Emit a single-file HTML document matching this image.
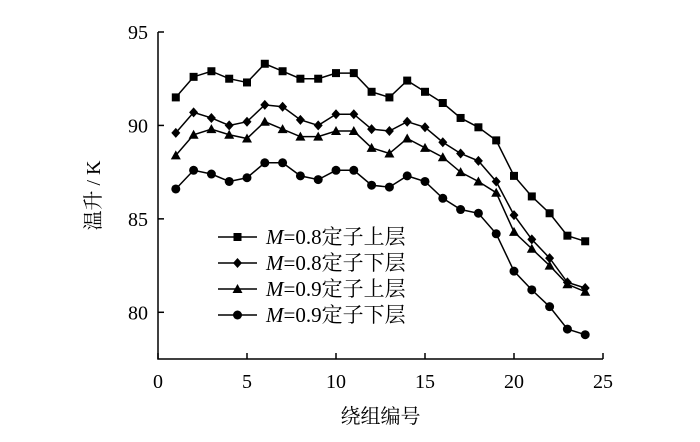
<!DOCTYPE html>
<html><head><meta charset="utf-8"><style>
body{margin:0;background:#fff;}
svg text{font-family:"Liberation Serif","Noto Serif CJK SC",serif;fill:#000;}
</style></head><body>
<svg id="chart" width="700" height="437" viewBox="0 0 700 437" xmlns="http://www.w3.org/2000/svg"></svg>
<script>
const windings=[1,2,3,4,5,6,7,8,9,10,11,12,13,14,15,16,17,18,19,20,21,22,23,24];
const s1=[91.5,92.6,92.9,92.5,92.3,93.3,92.9,92.5,92.5,92.8,92.8,91.8,91.5,92.4,91.8,91.2,90.4,89.9,89.2,87.3,86.2,85.3,84.1,83.8];
const s2=[89.6,90.7,90.4,90.0,90.2,91.1,91.0,90.3,90.0,90.6,90.6,89.8,89.7,90.2,89.9,89.1,88.5,88.1,87.0,85.2,83.9,82.9,81.6,81.3];
const s3=[88.4,89.5,89.8,89.5,89.3,90.2,89.8,89.4,89.4,89.7,89.7,88.8,88.5,89.3,88.8,88.3,87.5,87.0,86.4,84.3,83.4,82.5,81.5,81.1];
const s4=[86.6,87.6,87.4,87.0,87.2,88.0,88.0,87.3,87.1,87.6,87.6,86.8,86.7,87.3,87.0,86.1,85.5,85.3,84.2,82.2,81.2,80.3,79.1,78.8];
const xTicks=[0,5,10,15,20,25];
const yTicks=[80,85,90,95];
const seriesNames=["0.8定子上层","0.8定子下层","0.9定子上层","0.9定子下层"];
const markers=["square","diamond","triangle","circle"];

const svg=document.getElementById('chart');
const NS='http://www.w3.org/2000/svg';
const X0=158,X1=603,Y0=359,Y1=32,xMin=0,xMax=25,yMin=77.5,yMax=95;
function xs(v){return X0+(v-xMin)/(xMax-xMin)*(X1-X0);}
function ys(v){return Y0-(v-yMin)/(yMax-yMin)*(Y0-Y1);}
function el(t,a){const e=document.createElementNS(NS,t);for(const k in a)e.setAttribute(k,a[k]);svg.appendChild(e);return e;}

let ax=el('path',{d:`M${X0},${Y1}V${Y0}H${X1}`,stroke:'#000','stroke-width':1.5,fill:'none'});


xTicks.forEach(v=>{
  const t=el('line',{x1:xs(v),x2:xs(v),y1:Y0,y2:Y0-6,stroke:'#000','stroke-width':1.5});
  
  
  const l=el('text',{x:xs(v),y:Y0+29,'text-anchor':'middle','font-size':20});
  l.textContent=v;
  
  
});
yTicks.forEach(v=>{
  const t=el('line',{x1:X0,x2:X0+6,y1:ys(v),y2:ys(v),stroke:'#000','stroke-width':1.5});
  
  
  const l=el('text',{x:X0-10,y:ys(v)+7,'text-anchor':'end','font-size':20});
  l.textContent=v;
  
  
});
let yt=el('text',{x:0,y:0,'text-anchor':'middle','font-size':20,transform:`translate(100,${(Y0+Y1)/2}) rotate(-90)`});
yt.textContent='温升 / K';


let xt=el('text',{x:(X0+X1)/2,y:423,'text-anchor':'middle','font-size':20});
xt.textContent='绕组编号';



function marker(type,x,y){
  let m;
  if(type==='square')m=el('rect',{x:x-4,y:y-4,width:8,height:8,fill:'#000'});
  else if(type==='diamond')m=el('polygon',{points:`${x},${y-5} ${x+4.5},${y} ${x},${y+5} ${x-4.5},${y}`,fill:'#000'});
  else if(type==='triangle')m=el('polygon',{points:`${x},${y-5} ${x+5},${y+4} ${x-5},${y+4}`,fill:'#000'});
  else m=el('circle',{cx:x,cy:y,r:4.5,fill:'#000'});
  return m;
}
[s1,s2,s3,s4].forEach((s,i)=>{
  const p=el('polyline',{points:s.map((v,j)=>xs(windings[j])+','+ys(v)).join(' '),fill:'none',stroke:'#000','stroke-width':1.5});
  
  
  s.forEach((v,j)=>{
    const m=marker(markers[i],xs(windings[j]),ys(v));
    
    
  });
  const ly=237+i*26;
  const ll=el('line',{x1:218,x2:257,y1:ly,y2:ly,stroke:'#000','stroke-width':1.5});
  
  
  const lm=marker(markers[i],237.5,ly);
  
  
  const tx=el('text',{x:266,y:ly+7,'font-size':21});
  tx.innerHTML='<tspan font-style="italic">M</tspan>='+seriesNames[i];
  
  
});
</script>
</body></html>
